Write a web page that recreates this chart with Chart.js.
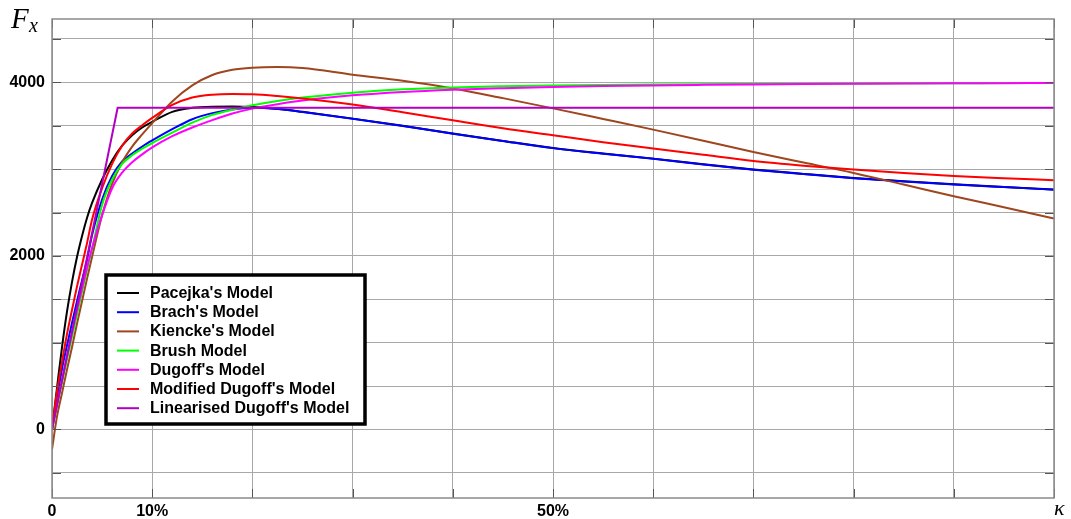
<!DOCTYPE html>
<html>
<head>
<meta charset="utf-8">
<script src="https://cdn.jsdelivr.net/npm/chart.js@4/dist/chart.umd.min.js"></script>
<style>
  html, body { margin: 0; padding: 0; background: #fff; }
  #wrap { width: 1071px; height: 519px; position: relative; }
</style>
</head>
<body>
<div id="wrap"><canvas id="fx-chart" width="1071" height="519"></canvas></div>
<script>
// slip ratio in percent, shared by the smooth curves
const kappa = [0, 0.5, 1, 1.5, 2, 2.5, 3, 3.5, 4, 5, 6, 7, 8, 9, 10, 12, 14, 16, 18, 20, 22.5,
  25, 30, 35, 40, 45, 50, 55, 60, 65, 70, 75, 80, 85, 90, 95, 100];

const pacejka = [0, 480, 950, 1360, 1700, 1990, 2230, 2440, 2610, 2880, 3100, 3270, 3390, 3480, 3545, 3660, 3706, 3720, 3722, 3716, 3695,
  3660, 3582, 3500, 3410, 3325, 3244, 3180, 3121, 3055, 2995, 2945, 2898, 2860, 2826, 2795, 2765];
const brach = [0, 360, 700, 970, 1230, 1480, 1720, 1960, 2240, 2650, 2920, 3090, 3180, 3260, 3330, 3460, 3575, 3645, 3688, 3708, 3692,
  3658, 3580, 3498, 3408, 3323, 3242, 3178, 3119, 3053, 2993, 2943, 2896, 2858, 2824, 2793, 2763];
const kiencke = [-230, 150, 420, 690, 950, 1220, 1480, 1740, 1990, 2470, 2830, 3080, 3260, 3400, 3530, 3780, 3965, 4085, 4145, 4169, 4177,
  4165, 4088, 4018, 3930, 3818, 3700, 3578, 3455, 3328, 3198, 3076, 2956, 2822, 2688, 2560, 2431];
const brush = [0, 280, 540, 810, 1070, 1330, 1590, 1840, 2080, 2590, 2880, 3060, 3160, 3235, 3300, 3420, 3535, 3625, 3685, 3735, 3785,
  3825, 3881, 3920, 3942, 3955, 3964, 3970, 3975, 3979, 3982, 3985, 3987, 3989, 3990, 3992, 3993];
const dugoff = [0, 290, 570, 850, 1120, 1380, 1630, 1870, 2090, 2470, 2780, 2960, 3080, 3170, 3250, 3380, 3480, 3565, 3640, 3697, 3748,
  3790, 3850, 3890, 3916, 3933, 3946, 3957, 3965, 3971, 3976, 3980, 3983, 3986, 3989, 3991, 3993];
const modDugoff = [0, 440, 780, 1100, 1380, 1650, 1900, 2150, 2420, 2780, 3060, 3270, 3410, 3505, 3590, 3740, 3825, 3858, 3866, 3862, 3842,
  3815, 3745, 3655, 3562, 3470, 3390, 3310, 3237, 3165, 3094, 3040, 2995, 2955, 2921, 2895, 2872];

// linearised Dugoff is piecewise linear
const linKappa = [0, 6.55, 100];
const linDugoff = [0, 3708, 3708];

const modelNames = ["Pacejka's Model", "Brach's Model", "Kiencke's Model", "Brush Model",
  "Dugoff's Model", "Modified Dugoff's Model", "Linearised Dugoff's Model"];
const modelColors = ['#000000', '#0000ff', '#a0461e', '#00ff00', '#ff00ff', '#ff0000', '#b000c0'];

const xTicks = [0, 10, 20, 30, 40, 50, 60, 70, 80, 90, 100];
const xLabels = { 0: '0', 10: '10%', 50: '50%' };
const yTicks = [-500, 0, 500, 1000, 1500, 2000, 2500, 3000, 3500, 4000, 4500];
const yLabels = { 0: '0', 2000: '2000', 4000: '4000' };

const pts = (xs, ys) => xs.map((x, i) => ({ x: x, y: ys[i] }));
const series = [pacejka, brach, kiencke, brush, dugoff, modDugoff];

const datasets = series.map((s, i) => ({
  label: modelNames[i],
  data: pts(kappa, s),
  borderColor: modelColors[i],
  borderWidth: 2,
  pointRadius: 0,
  cubicInterpolationMode: 'monotone',
  order: 10 - i
}));
datasets.push({
  label: modelNames[6],
  data: pts(linKappa, linDugoff),
  borderColor: modelColors[6],
  borderWidth: 2,
  pointRadius: 0,
  tension: 0,
  order: 1
});

// frame, inner tick marks, axis symbols and boxed legend
const decor = {
  id: 'decor',
  afterDatasetsDraw(chart) {
    const { ctx, chartArea: a, scales } = chart;
    ctx.save();
    ctx.strokeStyle = '#555';
    ctx.lineWidth = 1;
    ctx.beginPath();
    yTicks.forEach(v => {
      const y = Math.round(scales.y.getPixelForValue(v)) + 0.5;
      ctx.moveTo(a.left, y); ctx.lineTo(a.left + 9, y);
      ctx.moveTo(a.right - 9, y); ctx.lineTo(a.right, y);
    });
    xTicks.forEach(v => {
      const x = Math.round(scales.x.getPixelForValue(v)) + 0.5;
      ctx.moveTo(x, a.top); ctx.lineTo(x, a.top + 9);
      ctx.moveTo(x, a.bottom - 9); ctx.lineTo(x, a.bottom);
    });
    ctx.stroke();

    ctx.strokeStyle = '#8a8a8a';
    ctx.lineWidth = 1.5;
    ctx.strokeRect(a.left, a.top, a.right - a.left, a.bottom - a.top);

    // legend
    const lx = 106, ly = 275, lw = 259, lh = 149;
    ctx.fillStyle = '#fff';
    ctx.fillRect(lx, ly, lw, lh);
    ctx.strokeStyle = '#000';
    ctx.lineWidth = 3.5;
    ctx.strokeRect(lx, ly, lw, lh);
    ctx.font = 'bold 16px "Liberation Sans", Arial, sans-serif';
    ctx.textBaseline = 'middle';
    ctx.textAlign = 'left';
    modelNames.forEach((name, i) => {
      const y = 293 + i * 19.2;
      ctx.strokeStyle = modelColors[i];
      ctx.lineWidth = 2;
      ctx.beginPath();
      ctx.moveTo(117, y); ctx.lineTo(139, y);
      ctx.stroke();
      ctx.fillStyle = '#000';
      ctx.fillText(name, 150, y + 0.5);
    });

    // axis symbols
    ctx.fillStyle = '#000';
    ctx.textBaseline = 'alphabetic';
    ctx.font = 'italic 29px "Liberation Serif", "DejaVu Serif", serif';
    ctx.fillText('F', 11, 28);
    ctx.font = 'italic 20px "Liberation Serif", "DejaVu Serif", serif';
    ctx.fillText('x', 29, 32);
    ctx.font = 'italic 22px "Liberation Serif", "DejaVu Serif", serif';
    ctx.fillText('\u03ba', 1054, 515);
    ctx.restore();
  }
};

const tickFont = { family: '"Liberation Sans", Arial, sans-serif', size: 16, weight: 'bold' };

new Chart(document.getElementById('fx-chart').getContext('2d'), {
  type: 'line',
  data: { datasets: datasets },
  options: {
    responsive: false,
    animation: false,
    layout: { padding: { top: 19, right: 17, left: 0, bottom: 0 } },
    scales: {
      x: {
        type: 'linear',
        min: 0,
        max: 100,
        afterBuildTicks: s => { s.ticks = xTicks.map(v => ({ value: v })); },
        afterFit: s => { s.height = 21; },
        grid: { color: '#a8a8a8', lineWidth: 1, drawTicks: false },
        border: { display: false },
        ticks: {
          color: '#000', font: tickFont, padding: 4,
          autoSkip: false, maxRotation: 0,
          callback: v => xLabels[v] || ''
        }
      },
      y: {
        min: -790,
        max: 4730,
        afterBuildTicks: s => { s.ticks = yTicks.map(v => ({ value: v })); },
        afterFit: s => { s.width = 52; },
        grid: { color: '#a8a8a8', lineWidth: 1, drawTicks: false },
        border: { display: false },
        ticks: {
          color: '#000', font: tickFont, padding: 7,
          callback: v => yLabels[v] || ''
        }
      }
    },
    plugins: {
      legend: { display: false },
      tooltip: { enabled: false }
    }
  },
  plugins: [decor]
});
</script>
</body>
</html>
